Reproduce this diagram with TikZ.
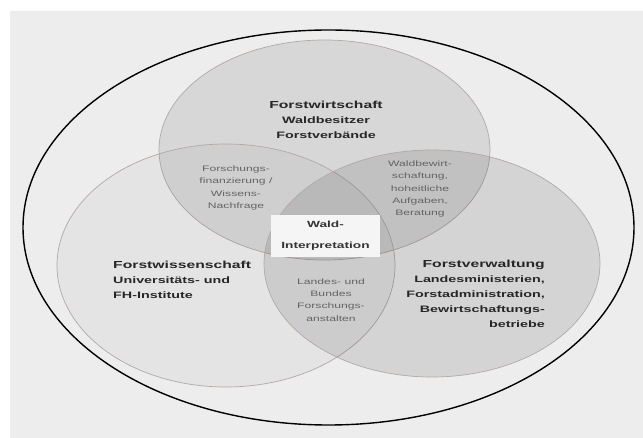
\documentclass[tikz,border=0pt]{standalone}
\usepackage{fontspec}
\setmainfont[FakeStretch=1.54]{Liberation Sans}
\usetikzlibrary{shapes,calc,fit}

\definecolor{bggray}{RGB}{237,237,237}
\definecolor{rimgray}{RGB}{176,170,164}
\definecolor{notegray}{RGB}{100,100,100}
\definecolor{boxwhite}{RGB}{245,245,245}

\newcommand{\headsize}{\fontsize{10.2}{15}\selectfont}

\tikzset{
	zone/.style={draw=rimgray, line width=0.7pt, fill=black},
	sector/.style={font=\bfseries\fontsize{9.3}{15}\selectfont, text=black!85, inner sep=0pt},
	overlap/.style={font=\fontsize{7.9}{12.3}\selectfont, text=notegray, align=center, inner sep=0pt},
	core/.style={fill=boxwhite, minimum width=109pt, minimum height=42pt, inner sep=0pt,
		font=\bfseries\fontsize{8.9}{21}\selectfont, text=black!80, align=center}
}

\begin{document}
\begin{tikzpicture}[x=1pt, y=-1pt]
	\useasboundingbox (0,0) rectangle (643,438);
	\fill[white] (0,0) rectangle (643,438);
	\fill[bggray] (10,11) rectangle (643,438);

	% outer frame
	\draw[line width=1.4pt] (328.5,227.5) ellipse (305.5pt and 197.5pt);

	% the three sectors
	\foreach \cx/\cy/\rx/\ry/\op in
	{324.5/150/165.5/110/0.09, 226/265.5/169/121.5/0.035, 432/263.5/168/113.5/0.1}
	{
		\filldraw[zone, fill opacity=\op] (\cx,\cy) ellipse ({\rx pt} and {\ry pt});
	}

	\node[sector, align=center] (wirtschaft) at (326,120)
		{{\headsize Forstwirtschaft}\\Waldbesitzer\\Forstverbände};
	\node[sector, align=left, anchor=west] (wissenschaft) at (113,280)
		{{\headsize Forstwissenschaft}\\Universitäts- und\\FH-Institute};
	\node[sector, align=right, anchor=east] (verwaltung) at (545,294)
		{{\headsize Forstverwaltung}\\Landesministerien,\\Forstadministration,\\Bewirtschaftungs-\\betriebe};

	\node[overlap] (finanzierung) at (236,188)
		{Forschungs-\\finanzierung /\\Wissens-\\Nachfrage};
	\node[overlap] (bewirtschaftung) at (420,189)
		{Waldbewirt-\\schaftung,\\hoheitliche\\Aufgaben,\\Beratung};
	\node[overlap] (anstalten) at (331,300)
		{Landes- und\\Bundes\\Forschungs-\\anstalten};

	\node[core] (interpretation) at (325.5,236) {Wald-\\Interpretation};
\end{tikzpicture}
\end{document}
